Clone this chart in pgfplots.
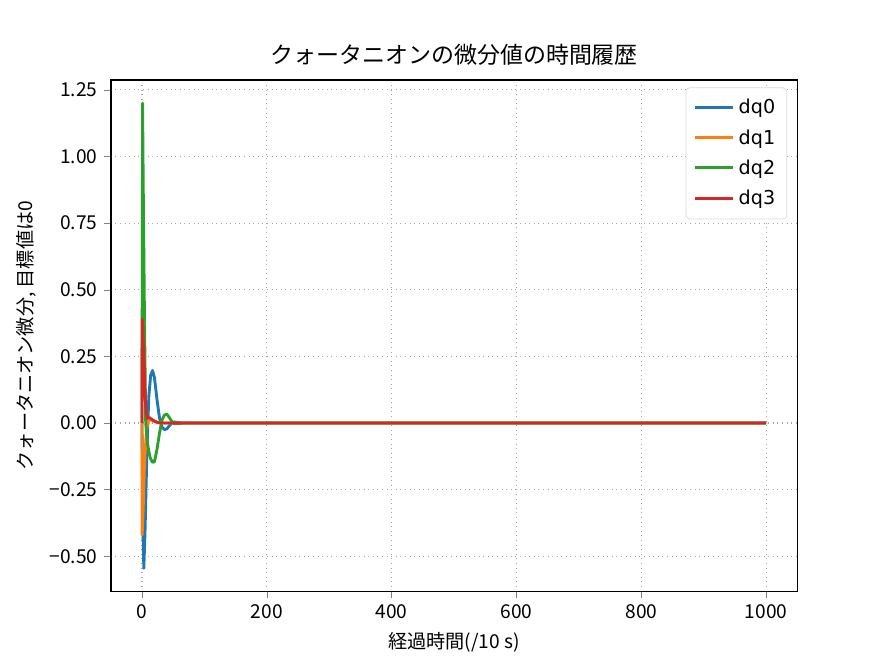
\documentclass[border=0pt]{standalone}
\usepackage{fontspec}
\setmainfont{Noto Sans CJK JP}
\newfontfamily\dejavu{DejaVu Sans}
\usepackage{pgfplots}
\pgfplotsset{compat=1.18}
\definecolor{c0}{HTML}{1F77B4}
\definecolor{c1}{HTML}{FF7F0E}
\definecolor{c2}{HTML}{2CA02C}
\definecolor{c3}{HTML}{D62728}
\begin{document}
\begin{tikzpicture}
\path[use as bounding box] (-0.8in,-0.528in) rectangle (5.6in,4.272in);
\begin{axis}[
  at={(0,0)}, anchor=south west,
  scale only axis, width=4.96in, height=3.696in,
  xmin=-50, xmax=1050, ymin=-0.632, ymax=1.288,
  xtick={0,200,400,600,800,1000},
  xticklabels={0,200,400,600,800,1000},
  ytick={-0.5,-0.25,0,0.25,0.5,0.75,1,1.25},
  yticklabels={−0.50,−0.25,0.00,0.25,0.50,0.75,1.00,1.25},
  /pgf/number format/assume math mode=true,
  tick align=outside, tick pos=left,
  major tick length=3.5pt,
  tick label style={font=\fontsize{10}{12}\selectfont},
  grid=major,
  grid style={dotted, gray!70, line width=0.6pt},
  axis line style={line width=0.8pt},
  title={クォータニオンの微分値の時間履歴},
  title style={font=\fontsize{12}{14}\selectfont, yshift=-2pt},
  xlabel={経過時間(/10 s)},
  ylabel={クォータニオン微分, 目標値は0},
  label style={font=\fontsize{10}{12}\selectfont},
  legend style={at={(0.985,0.985)}, anchor=north east, draw=gray!30, rounded corners=2pt,
    font=\dejavu\fontsize{10}{12}\selectfont, row sep=2.7pt, inner sep=4pt},
  legend image code/.code={\draw[#1, line width=1.6pt] (0cm,0.3pt) -- (0.7cm,0.3pt);},
  legend cell align=left,
  every axis plot/.append style={line width=1.5pt, line join=round},
]
\addplot[c0] coordinates {(0,0)(1.5,-0.4)(3,-0.545)(5,-0.4)(8,-0.1)(11,0.1)(14,0.18)(17,0.197)(20,0.17)(24,0.09)(28,0.02)(32,-0.015)(36,-0.025)(40,-0.022)(44,-0.01)(48,0)(52,0.004)(58,0.002)(65,0)(200,0)(500,0)(1000,0)};
\addlegendentry{dq0}
\addplot[c1] coordinates {(0,0)(0.3,-0.42)(2,-0.32)(4,-0.16)(7,-0.03)(10,0.008)(14,0.012)(18,0.008)(25,0.002)(35,0)(200,0)(500,0)(1000,0)};
\addlegendentry{dq1}
\addplot[c2] coordinates {(0,0)(1,1.2)(2,0.9)(4,0.4)(6,0.0)(9,-0.08)(13,-0.13)(17,-0.148)(20,-0.145)(24,-0.1)(28,-0.04)(32,0.01)(36,0.03)(40,0.033)(44,0.02)(48,0.005)(52,-0.003)(58,-0.003)(65,0)(200,0)(500,0)(1000,0)};
\addlegendentry{dq2}
\addplot[c3] coordinates {(0,0)(0.5,0.39)(3,0.25)(5,0.1)(7,0.03)(9,0.018)(12,0.02)(15,0.015)(20,0.007)(25,0.002)(30,0)(200,0)(500,0)(1000,0)};
\addlegendentry{dq3}
\end{axis}
\end{tikzpicture}
\end{document}
